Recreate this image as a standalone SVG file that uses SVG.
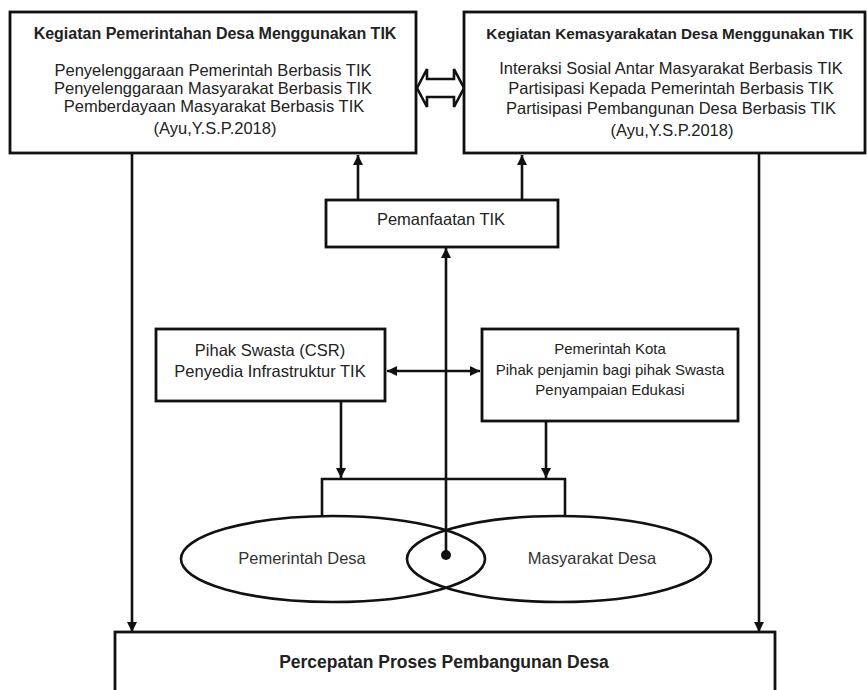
<svg xmlns="http://www.w3.org/2000/svg" width="867" height="690" viewBox="0 0 867 690">
<defs>
<style>
.box{fill:#fff;stroke:#111;stroke-width:2.8}
.ell{fill:none;stroke:#111;stroke-width:2.6}
.t{font-family:"Liberation Sans",Arial,sans-serif;font-size:16.5px;fill:#222;text-anchor:middle}
.b{font-weight:bold;font-size:16px}
.s{font-size:15px}
.e{fill:#333;font-size:16.5px}
.c{fill:none;stroke:#111;stroke-width:2.6}
</style>
<marker id="ah" viewBox="0 0 10 10" refX="10" refY="5" markerWidth="10" markerHeight="10" markerUnits="userSpaceOnUse" orient="auto-start-reverse">
<path d="M0,0 L10,5 L0,10 z" fill="#111"/>
</marker>
</defs>
<rect width="867" height="690" fill="#fff"/>

<g id="connectors">
<line class="c" x1="358" y1="200" x2="358" y2="155" marker-end="url(#ah)"/>
<line class="c" x1="522" y1="200" x2="522" y2="155" marker-end="url(#ah)"/>
<line class="c" x1="446" y1="555" x2="446" y2="248" marker-end="url(#ah)"/>
<line class="c" x1="387" y1="371" x2="480" y2="371" marker-start="url(#ah)" marker-end="url(#ah)"/>
<line class="c" x1="341" y1="402" x2="341" y2="478" marker-end="url(#ah)"/>
<line class="c" x1="546" y1="422" x2="546" y2="478" marker-end="url(#ah)"/>
<polyline class="c" points="322,516 322,479 565,479 565,516"/>
<line class="c" x1="132" y1="154" x2="132" y2="632" marker-end="url(#ah)"/>
<line class="c" x1="759" y1="154" x2="759" y2="632" marker-end="url(#ah)"/>
<path d="M417,88 L427,69 L427,79 L454,79 L454,69 L464,88 L454,107 L454,97 L427,97 L427,107 Z" fill="#fff" stroke="#111" stroke-width="2.6" stroke-linejoin="miter"/>
<circle cx="446" cy="555" r="5" fill="#111"/>
</g>

<g id="kegiatan-pemerintahan">
<rect class="box" x="10" y="12" width="406" height="141"/>
<text class="t b" x="215" y="39">Kegiatan Pemerintahan Desa Menggunakan TIK</text>
<text class="t" x="213" y="76">Penyelenggaraan Pemerintah Berbasis TIK</text>
<text class="t" x="213" y="94">Penyelenggaraan Masyarakat Berbasis TIK</text>
<text class="t" x="214" y="112">Pemberdayaan Masyarakat Berbasis TIK</text>
<text class="t" x="215" y="134">(Ayu,Y.S.P.2018)</text>
</g>

<g id="kegiatan-kemasyarakatan">
<rect class="box" x="464" y="12" width="401" height="141"/>
<text class="t b" x="670" y="39" style="font-size:15.3px">Kegiatan Kemasyarakatan Desa Menggunakan TIK</text>
<text class="t" x="671" y="74">Interaksi Sosial Antar Masyarakat Berbasis TIK</text>
<text class="t" x="671" y="94">Partisipasi Kepada Pemerintah Berbasis TIK</text>
<text class="t" x="671" y="114">Partisipasi Pembangunan Desa Berbasis TIK</text>
<text class="t" x="672" y="136">(Ayu,Y.S.P.2018)</text>
</g>

<g id="pemanfaatan-tik">
<rect class="box" x="326" y="200" width="232" height="47"/>
<text class="t" x="441" y="225">Pemanfaatan TIK</text>
</g>

<g id="pihak-swasta">
<rect class="box" x="156" y="329" width="229" height="72"/>
<text class="t" x="270" y="356">Pihak Swasta (CSR)</text>
<text class="t" x="270" y="377">Penyedia Infrastruktur TIK</text>
</g>

<g id="pemerintah-kota">
<rect class="box" x="482" y="329" width="256" height="92"/>
<text class="t s" x="610" y="354">Pemerintah Kota</text>
<text class="t s" x="610" y="375">Pihak penjamin bagi pihak Swasta</text>
<text class="t s" x="610" y="395">Penyampaian Edukasi</text>
</g>

<g id="pemerintah-desa">
<ellipse class="ell" cx="333" cy="559" rx="152" ry="43"/>
<text class="t e" x="302" y="564">Pemerintah Desa</text>
</g>

<g id="masyarakat-desa">
<ellipse class="ell" cx="559" cy="559" rx="152" ry="43"/>
<text class="t e" x="592" y="564">Masyarakat Desa</text>
</g>

<g id="percepatan">
<rect class="box" x="115" y="632" width="660" height="80"/>
<text class="t b" x="444" y="668" style="font-size:17.5px">Percepatan Proses Pembangunan Desa</text>
</g>
</svg>
